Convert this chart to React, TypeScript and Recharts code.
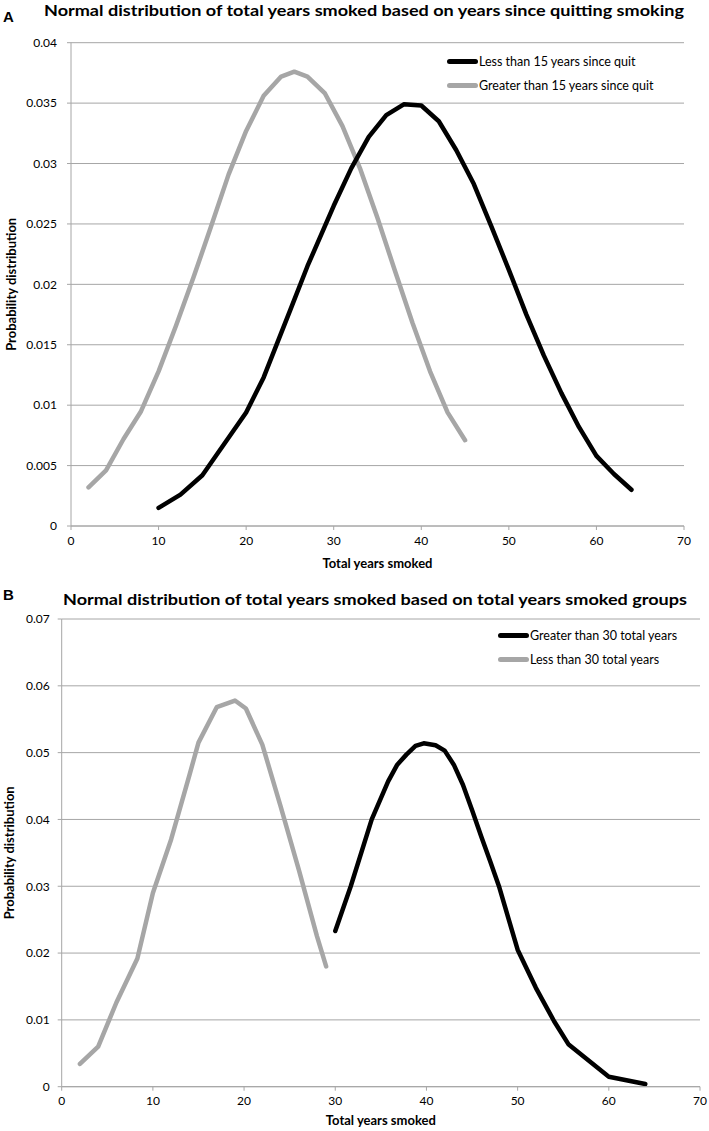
import { LineChart, Line, XAxis, YAxis, CartesianGrid, Legend } from 'recharts';

// x positions (total years smoked) and probability values
const yearTicks = [0, 10, 20, 30, 40, 50, 60, 70];
const probTicksA = [0, 0.005, 0.01, 0.015, 0.02, 0.025, 0.03, 0.035, 0.04];
const probTicksB = [0, 0.01, 0.02, 0.03, 0.04, 0.05, 0.06, 0.07];

// panel A
const lessThan15Years = [10, 12.5, 15, 20, 22, 25, 27, 30, 32, 34, 36, 38, 40, 42, 44, 46, 48, 50, 52, 54, 56, 58, 60, 62, 64];
const lessThan15Prob = [0.0015, 0.0026, 0.0042, 0.0094, 0.0123, 0.0178, 0.0215, 0.0265, 0.0296, 0.0322, 0.034, 0.0349, 0.0348, 0.0335, 0.0311, 0.0283, 0.0248, 0.0212, 0.0175, 0.0141, 0.011, 0.0082, 0.0058, 0.0043, 0.003];
const greaterThan15Years = [2, 4, 6, 8, 10, 12, 14, 16, 18, 20, 22, 24, 25.5, 27, 29, 31, 33, 35, 37, 39, 41, 43, 45];
const greaterThan15Prob = [0.0032, 0.0046, 0.0072, 0.0095, 0.0128, 0.0166, 0.0206, 0.0248, 0.0291, 0.0327, 0.0356, 0.0372, 0.0376, 0.0372, 0.0358, 0.0331, 0.0296, 0.0255, 0.0211, 0.0168, 0.0128, 0.0094, 0.0071];

// panel B
const greaterThan30Years = [30, 31.7, 34, 35.8, 36.8, 37.8, 38.8, 39.7, 41, 42, 43, 44, 45, 46, 47, 48, 50, 52, 54, 55.6, 60, 64];
const greaterThan30Prob = [0.0233, 0.03, 0.04, 0.0457, 0.0482, 0.0497, 0.051, 0.0514, 0.0511, 0.0503, 0.0482, 0.0452, 0.0414, 0.0375, 0.0337, 0.0298, 0.0205, 0.0148, 0.0098, 0.0063, 0.0015, 0.0004];
const lessThan30Years = [2, 4, 6, 8.3, 10, 12, 14, 15, 17, 19, 20.2, 22, 24, 26, 28, 29];
const lessThan30Prob = [0.0034, 0.006, 0.0126, 0.0192, 0.029, 0.037, 0.0466, 0.0515, 0.0568, 0.0578, 0.0566, 0.0512, 0.042, 0.0325, 0.0225, 0.018];

const toPoints = (xs: number[], ys: number[]) => xs.map((x, i) => ({ x, y: ys[i] }));

const FONT = 'Lato, "Liberation Sans", sans-serif';
const GRID = '#a6a6a6';
const GREY_LINE = '#a6a6a6';

const LegendBox = ({ items }: { items: { label: string; color: string }[] }) => (
  <div style={{ fontFamily: FONT, fontSize: 12.5, color: '#000' }}>
    {items.map((it) => (
      <div key={it.label} style={{ display: 'flex', alignItems: 'center', height: 24.3 }}>
        <span style={{ display: 'inline-block', width: 31, height: 5, borderRadius: 3, background: it.color, marginRight: 1 }} />
        <span>{it.label}</span>
      </div>
    ))}
  </div>
);

const tickStyle = { fontFamily: FONT, fontSize: 12, fill: '#000' };
const axisTitleStyle = { fontFamily: FONT, fontSize: 13, fontWeight: 700, fill: '#000', textAnchor: 'middle' as const };

export default function App() {
  return (
    <div style={{ position: 'absolute', left: 0, top: 0, width: 709, height: 1131, background: '#fff' }}>
      <div style={{ position: 'absolute', left: 0, top: 0 }}>
        <LineChart width={709} height={575} margin={{ top: 42.7, right: 25, left: 0, bottom: 0 }}>
          <CartesianGrid vertical={false} stroke={GRID} />
          <XAxis
            type="number"
            dataKey="x"
            domain={[0, 70]}
            ticks={yearTicks}
            interval={0}
            height={49}
            tickSize={4}
            tickMargin={6}
            stroke={GRID}
            tick={tickStyle}
            label={{ value: 'Total years smoked', position: 'insideBottom', offset: 7, style: axisTitleStyle }}
          />
          <YAxis
            type="number"
            domain={[0, 0.04]}
            ticks={probTicksA}
            interval={0}
            width={71}
            tickSize={4}
            tickMargin={10}
            stroke={GRID}
            tick={tickStyle}
            label={{ value: 'Probability distribution', angle: -90, position: 'insideLeft', offset: 11, style: axisTitleStyle }}
          />
          <Legend
            layout="vertical"
            align="center"
            verticalAlign="middle"
            wrapperStyle={{ left: 447, top: 49.5, width: 250 }}
            content={() => (
              <LegendBox
                items={[
                  { label: 'Less than 15 years since quit', color: '#000' },
                  { label: 'Greater than 15 years since quit', color: GREY_LINE },
                ]}
              />
            )}
          />
          <Line data={toPoints(greaterThan15Years, greaterThan15Prob)} dataKey="y" type="linear" stroke={GREY_LINE} strokeWidth={4.5} strokeLinecap="round" strokeLinejoin="round" dot={false} isAnimationActive={false} />
          <Line data={toPoints(lessThan15Years, lessThan15Prob)} dataKey="y" type="linear" stroke="#000" strokeWidth={4.5} strokeLinecap="round" strokeLinejoin="round" dot={false} isAnimationActive={false} />
        </LineChart>
      </div>

      <div style={{ position: 'absolute', left: 0, top: 575 }}>
        <LineChart width={709} height={556} margin={{ top: 44, right: 9, left: 0, bottom: 0 }}>
          <CartesianGrid vertical={false} stroke={GRID} />
          <XAxis
            type="number"
            dataKey="x"
            domain={[0, 70]}
            ticks={yearTicks}
            interval={0}
            height={44.3}
            tickSize={4}
            tickMargin={6}
            stroke={GRID}
            tick={tickStyle}
            label={{ value: 'Total years smoked', position: 'insideBottom', offset: 6, style: axisTitleStyle }}
          />
          <YAxis
            type="number"
            domain={[0, 0.07]}
            ticks={probTicksB}
            interval={0}
            width={61.7}
            tickSize={4}
            tickMargin={8}
            stroke={GRID}
            tick={tickStyle}
            label={{ value: 'Probability distribution', angle: -90, position: 'insideLeft', offset: 9, style: axisTitleStyle }}
          />
          <Legend
            layout="vertical"
            align="center"
            verticalAlign="middle"
            wrapperStyle={{ left: 498, top: 48, width: 210 }}
            content={() => (
              <LegendBox
                items={[
                  { label: 'Greater than 30 total years', color: '#000' },
                  { label: 'Less than 30 total years', color: GREY_LINE },
                ]}
              />
            )}
          />
          <Line data={toPoints(lessThan30Years, lessThan30Prob)} dataKey="y" type="linear" stroke={GREY_LINE} strokeWidth={4.5} strokeLinecap="round" strokeLinejoin="round" dot={false} isAnimationActive={false} />
          <Line data={toPoints(greaterThan30Years, greaterThan30Prob)} dataKey="y" type="linear" stroke="#000" strokeWidth={4.5} strokeLinecap="round" strokeLinejoin="round" dot={false} isAnimationActive={false} />
        </LineChart>
      </div>

      <svg width={709} height={1131} style={{ position: 'absolute', left: 0, top: 0, pointerEvents: 'none' }}>
        <text x={3} y={21.7} fontFamily='"Liberation Sans", Arial, sans-serif' fontWeight={700} fontSize={15}>A</text>
        <text x={44} y={16} fontFamily={FONT} fontWeight={700} fontSize={16} textLength={640} lengthAdjust="spacingAndGlyphs">
          Normal distribution of total years smoked based on years since quitting smoking
        </text>
        <text x={3} y={600} fontFamily='"Liberation Sans", Arial, sans-serif' fontWeight={700} fontSize={15}>B</text>
        <text x={63} y={605} fontFamily={FONT} fontWeight={700} fontSize={16} textLength={624} lengthAdjust="spacingAndGlyphs">
          Normal distribution of total years smoked based on total years smoked groups
        </text>
      </svg>
    </div>
  );
}
